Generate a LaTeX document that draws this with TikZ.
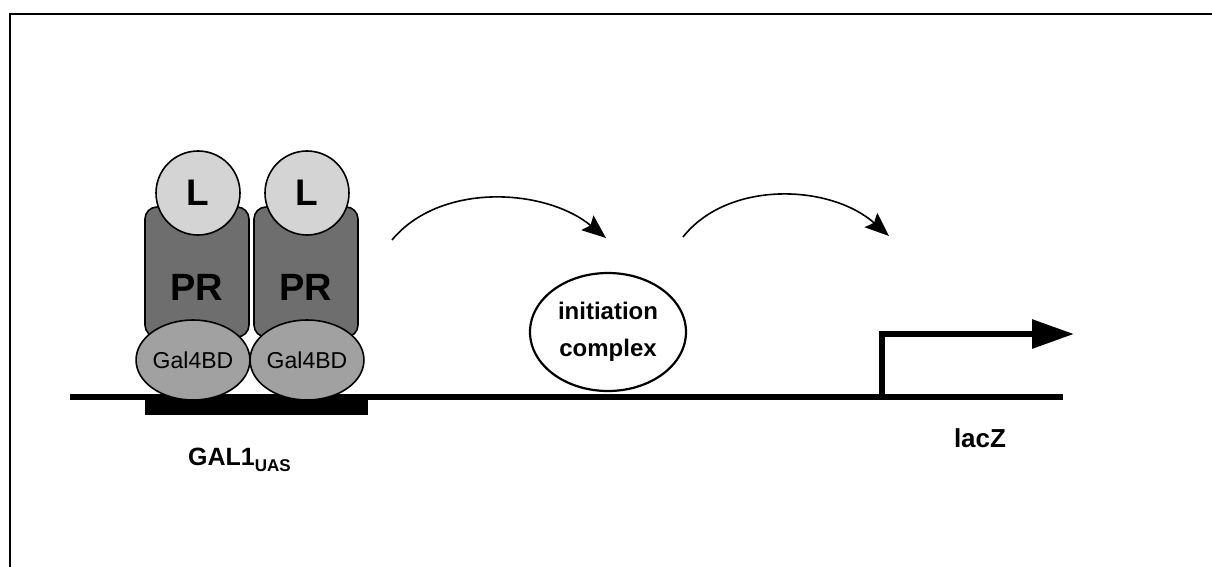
\documentclass[tikz,border=0pt]{standalone}
\usepackage{fontspec}
\setmainfont{Liberation Sans}
\usetikzlibrary{shapes.geometric,arrows.meta}

\definecolor{ligand}{gray}{0.83}
\definecolor{receptor}{gray}{0.43}
\definecolor{bindingdom}{gray}{0.63}

\tikzset{
  outline/.style={draw=black, line width=1.6},
  ligandcirc/.style={outline, circle, fill=ligand, minimum size=84, inner sep=0,
    font=\fontsize{37}{39}\selectfont\bfseries},
  receptorbox/.style={outline, rectangle, rounded corners=12, fill=receptor,
    minimum width=104, minimum height=130, inner sep=0},
  bdellipse/.style={outline, ellipse, fill=bindingdom, minimum width=110,
    minimum height=80, inner sep=0, font=\fontsize{23}{25}\selectfont},
  complexellipse/.style={draw=black, line width=2.2, ellipse, fill=white,
    minimum width=156, minimum height=118, inner sep=0, align=center,
    font=\fontsize{24}{37}\selectfont\bfseries},
  dna/.style={line width=6},
  flowarc/.style={line width=1.6, -{Stealth[length=24pt,width=19pt,inset=4pt]}},
  label/.style={font=\bfseries, inner sep=0}
}

\begin{document}
\begin{tikzpicture}[x=1pt,y=-1pt]
  \useasboundingbox (0,0) rectangle (1212,567);

  % open frame
  \draw[line width=2] (10,567) -- (10,14) -- (1212,14);

  % DNA strand and the UAS element
  \coordinate (dnaL) at (70,397);
  \coordinate (dnaR) at (1063,397);
  \draw[dna] (dnaL) -- (dnaR);
  \fill (145,396) rectangle (368,415);

  % receptor bodies
  \node[receptorbox] (pr1) at (197,272) {};
  \node[receptorbox] (pr2) at (306,272) {};
  \node[font=\fontsize{38}{40}\selectfont\bfseries] (prt1) at (197,287) {PR};
  \node[font=\fontsize{38}{40}\selectfont\bfseries] (prt2) at (306,287) {PR};

  % bound ligands
  \node[ligandcirc] (l1) at (198,193) {L};
  \node[ligandcirc] (l2) at (307,193) {L};

  % Gal4 DNA-binding domains
  \node[bdellipse] (bd1) at (193,360) {Gal4BD};
  \node[bdellipse] (bd2) at (307,360) {Gal4BD};

  % transcription initiation complex
  \node[complexellipse] (ic) at (608,332) {initiation\\complex};

  % reporter promoter arrow
  \coordinate (tss) at (882,397);
  \coordinate (tssbend) at (882,334);
  \coordinate (tsstip) at (1074,334);
  \draw[line width=6, line join=miter, -{Triangle[length=42pt,width=28pt]}]
    (tss) -- (tssbend) -- (tsstip);

  % activation arcs
  \coordinate (a1s) at (392,240);
  \coordinate (a1e) at (606,238);
  \coordinate (a2s) at (683,237);
  \coordinate (a2e) at (889,236);
  \draw[flowarc] (a1s) .. controls (440,182) and (545,188) .. (a1e);
  \draw[flowarc] (a2s) .. controls (728,180) and (830,184) .. (a2e);

  % labels
  \node[label, anchor=base west] (gal) at (188,465)
    {\fontsize{25}{28}\selectfont GAL1\raisebox{-6pt}{\fontsize{17}{19}\selectfont UAS}};
  \node[label, font=\fontsize{26}{28}\selectfont\bfseries] (lacz) at (980,438) {lacZ};
\end{tikzpicture}
\end{document}
